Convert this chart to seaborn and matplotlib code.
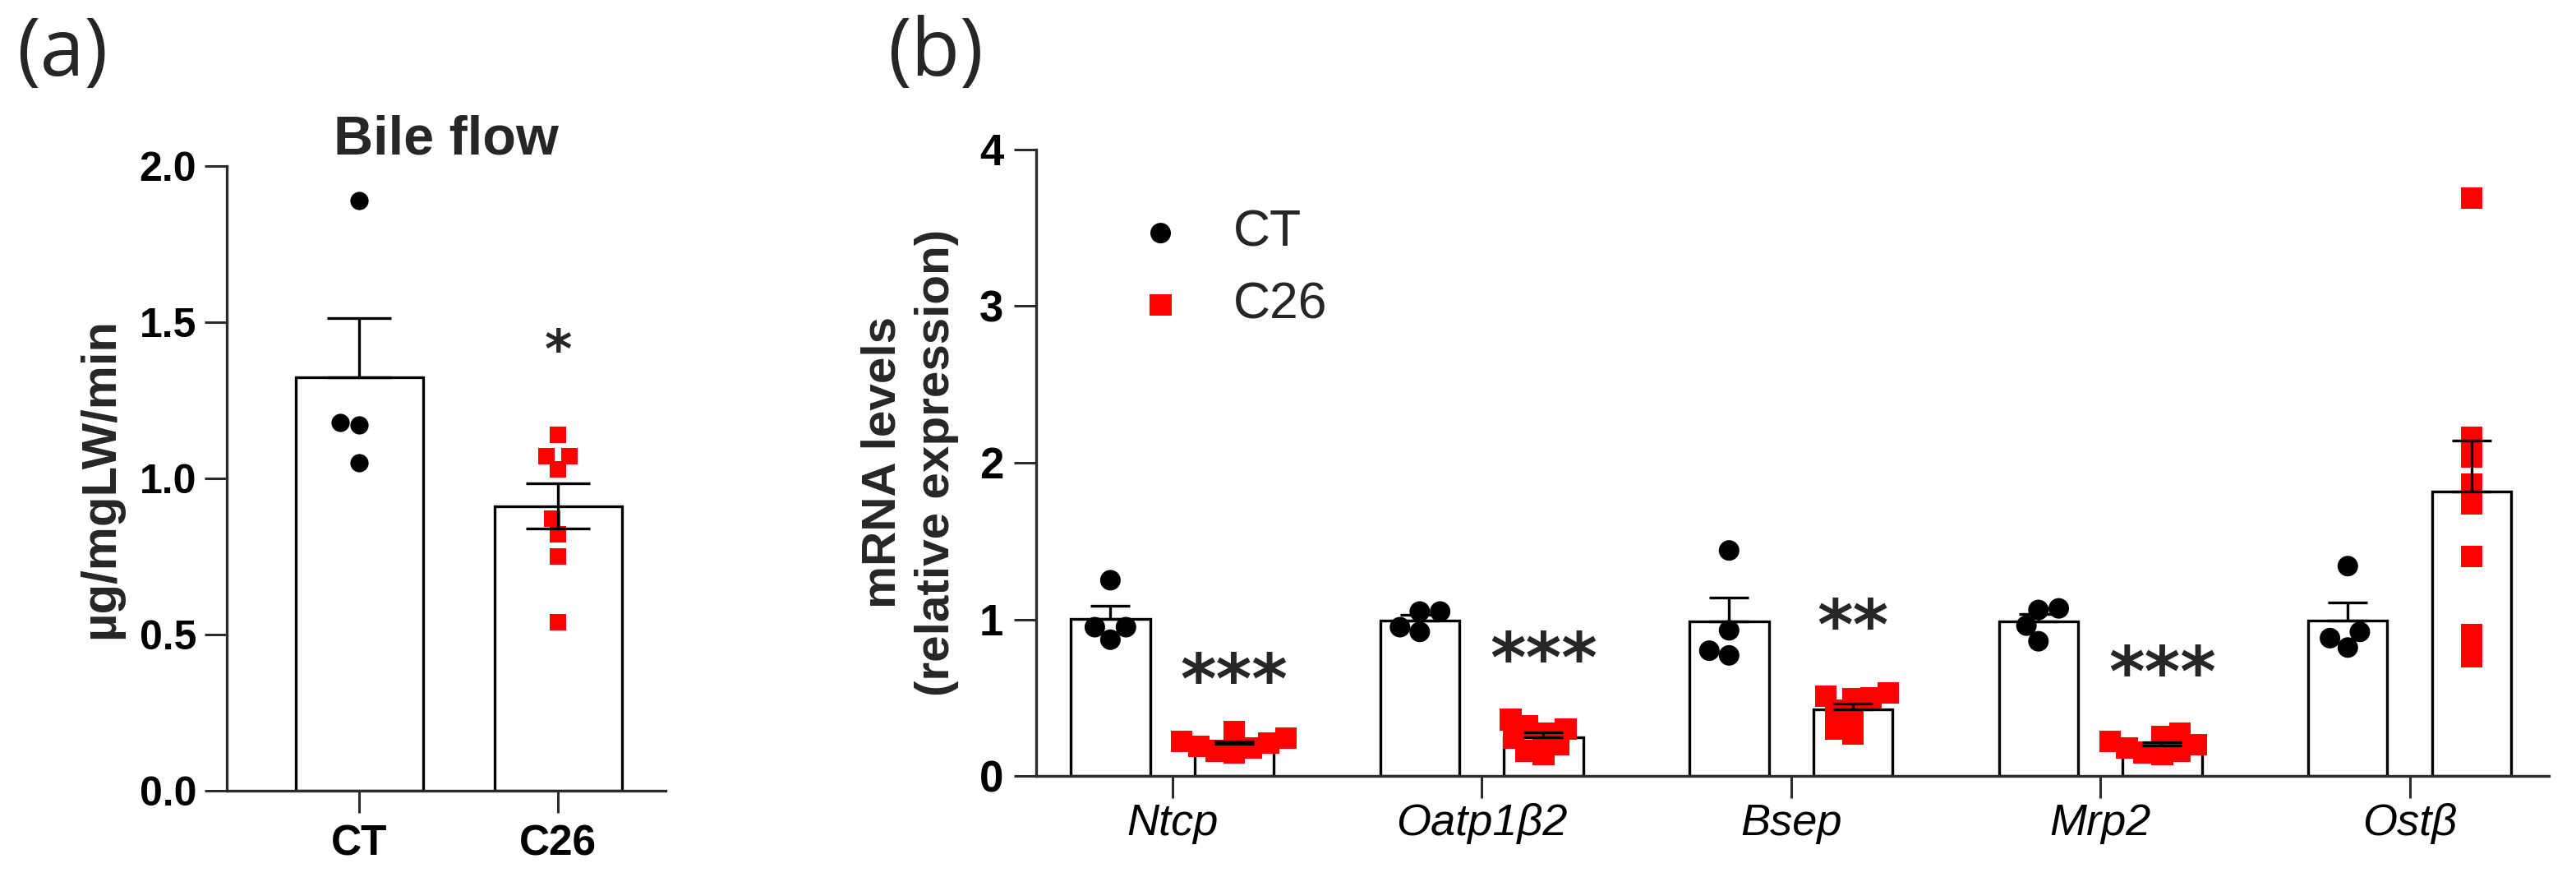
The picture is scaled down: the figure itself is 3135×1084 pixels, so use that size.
import numpy as np
import pandas as pd
import matplotlib
matplotlib.use("Agg")
import matplotlib.pyplot as plt
from matplotlib.ticker import FormatStrFormatter
import seaborn as sns

# ---------------- data ----------------
groups = ["CT", "C26"]

# (a) bile flow, µg/mgLW/min
bile_ct = [1.89, 1.18, 1.17, 1.05]
bile_c26 = [1.14, 1.07, 1.07, 1.03, 0.87, 0.82, 0.75, 0.54]

# (b) mRNA levels (relative expression)
genes = ["Ntcp", "Oatp1β2", "Bsep", "Mrp2", "Ostβ"]
ntcp_ct = [1.25, 0.95, 0.95, 0.87]
ntcp_c26 = [0.28, 0.24, 0.22, 0.21, 0.19, 0.18, 0.16, 0.15]
oatp_ct = [1.05, 1.05, 0.95, 0.92]
oatp_c26 = [0.36, 0.32, 0.30, 0.27, 0.24, 0.20, 0.16, 0.14]
bsep_ct = [1.44, 0.93, 0.80, 0.77]
bsep_c26 = [0.53, 0.51, 0.50, 0.49, 0.42, 0.38, 0.30, 0.27]
mrp2_ct = [1.07, 1.06, 0.96, 0.86]
mrp2_c26 = [0.27, 0.25, 0.22, 0.20, 0.18, 0.16, 0.15, 0.14]
ost_ct = [1.34, 0.92, 0.88, 0.82]
ost_c26 = [3.69, 2.16, 2.04, 1.86, 1.74, 1.40, 0.90, 0.76]

bile_stars = ["", "*"]
gene_stars = ["***", "***", "**", "***", ""]

# ---------------- tables ----------------
dfa = pd.DataFrame({
    "group": ["CT"] * len(bile_ct) + ["C26"] * len(bile_c26),
    "flow": bile_ct + bile_c26,
})

per_gene = {
    "Ntcp": (ntcp_ct, ntcp_c26),
    "Oatp1β2": (oatp_ct, oatp_c26),
    "Bsep": (bsep_ct, bsep_c26),
    "Mrp2": (mrp2_ct, mrp2_c26),
    "Ostβ": (ost_ct, ost_c26),
}
rows = []
for g in genes:
    for grp, vals in zip(groups, per_gene[g]):
        for v in vals:
            rows.append((g, grp, v))
dfb = pd.DataFrame(rows, columns=["gene", "group", "value"])

# ---------------- style ----------------
sns.set_theme(style="ticks")
plt.rcParams["font.family"] = ["Liberation Sans", "DejaVu Sans"]
axis_col = "#2b2b2b"
plt.rcParams["axes.edgecolor"] = axis_col
plt.rcParams["xtick.color"] = axis_col
plt.rcParams["ytick.color"] = axis_col
plt.rcParams["xtick.labelcolor"] = "black"
plt.rcParams["ytick.labelcolor"] = "black"

W, H = 3135, 1084
fig = plt.figure(figsize=(W / 100, H / 100), dpi=100)
axA = fig.add_axes([276 / W, 1 - 962 / H, 534 / W, 760 / H])
axB = fig.add_axes([1261 / W, 1 - 944 / H, 1841 / W, 762 / H])

lw = 2.4
palette_pts = {"CT": "black", "C26": "#ff0000"}

# ================= panel (a) =================
axA.set_xlim(-0.665, 1.54)
axA.set_ylim(0, 2.0)
sns.barplot(data=dfa, x="group", y="flow", order=groups, color="white",
            saturation=1, edgecolor="black", linewidth=lw, width=0.64,
            errorbar=None, ax=axA, zorder=1)
sns.swarmplot(data=dfa[dfa.group == "CT"], x="group", y="flow", order=groups,
              color=palette_pts["CT"], marker="o", size=16, linewidth=0,
              ax=axA, zorder=3, warn_thresh=1)
sns.swarmplot(data=dfa[dfa.group == "C26"], x="group", y="flow", order=groups,
              color=palette_pts["C26"], marker="s", size=14.5, linewidth=0,
              ax=axA, zorder=3, warn_thresh=1)

statsA = dfa.groupby("group")["flow"].agg(["mean", "sem"]).reindex(groups)
xa = np.arange(len(groups))
show_lower_a = np.array([0, 1])
axA.errorbar(xa, statsA["mean"].values,
             yerr=[statsA["sem"].values * show_lower_a, statsA["sem"].values],
             fmt="none", ecolor="black", elinewidth=lw, capsize=28,
             capthick=lw, zorder=4)
for i, s in enumerate(bile_stars):
    if s:
        axA.annotate(s, xy=(i, 1.45), xytext=(0, -0.56 * 46),
                     textcoords="offset points", ha="center", va="baseline",
                     fontsize=46, fontweight="bold", family="DejaVu Sans")

axA.set_xlim(-0.665, 1.54)
axA.set_ylim(0, 2.0)
axA.set_yticks([0, 0.5, 1.0, 1.5, 2.0])
axA.yaxis.set_major_formatter(FormatStrFormatter("%.1f"))
axA.set_xlabel("")
axA.set_ylabel("µg/mgLW/min", fontsize=43, fontweight="bold", labelpad=14)
axA.set_title("Bile flow", fontsize=48, fontweight="bold", pad=9)
axA.tick_params(axis="both", length=19.5, width=2.2)
axA.tick_params(axis="y", pad=7, labelsize=36)
axA.tick_params(axis="x", pad=10, labelsize=37)
for lab in axA.get_xticklabels() + axA.get_yticklabels():
    lab.set_fontweight("bold")
for sp in ["left", "bottom"]:
    axA.spines[sp].set_linewidth(2.4)
sns.despine(ax=axA)

# ================= panel (b) =================
axB.set_xlim(-0.44, 4.45)
axB.set_ylim(0, 4)
sns.barplot(data=dfb, x="gene", y="value", hue="group", order=genes,
            hue_order=groups, palette=["white", "white"], saturation=1,
            edgecolor="black", linewidth=lw, width=0.8, gap=0.36,
            errorbar=None, legend=False, ax=axB, zorder=1)

# swarm layout size (packing) and drawn marker size, per group
swarm_size = {"CT": 17, "C26": 15}
draw_size = {"CT": 18, "C26": 19}
markers = {"CT": "o", "C26": "s"}
new_colls = {}
for grp in groups:
    n0 = len(axB.collections)
    sns.swarmplot(data=dfb[dfb.group == grp], x="gene", y="value", hue="group",
                  order=genes, hue_order=groups, palette=palette_pts,
                  dodge=True, marker=markers[grp], size=swarm_size[grp],
                  linewidth=0, legend=False, ax=axB, zorder=3, warn_thresh=1)
    new_colls[grp] = [c for c in axB.collections[n0:]
                      if len(c.get_offsets()) > 0]

statsB = dfb.groupby(["gene", "group"])["value"].agg(["mean", "sem"])
for j, grp in enumerate(groups):
    off = (j - 0.5) * 0.4
    m = [statsB.loc[(g, grp), "mean"] for g in genes]
    e = [statsB.loc[(g, grp), "sem"] for g in genes]
    axB.errorbar(np.arange(len(genes)) + off, m,
                 yerr=[np.zeros(len(genes)), e], fmt="none", ecolor="black",
                 elinewidth=lw, capsize=17, capthick=lw, zorder=4)

star_y = [0.71, 0.85, 1.06, 0.76, 0.0]
for i, (s, y) in enumerate(zip(gene_stars, star_y)):
    if s:
        axB.annotate(s, xy=(i + 0.2, y), xytext=(0, -0.56 * 60),
                     textcoords="offset points", ha="center", va="baseline",
                     fontsize=60, fontweight="bold", family="DejaVu Sans")

axB.set_xlim(-0.44, 4.45)
axB.set_ylim(0, 4)
axB.set_yticks([0, 1, 2, 3, 4])
axB.set_xlabel("")
axB.set_ylabel("mRNA levels\n(relative expression)", fontsize=42,
               fontweight="bold", labelpad=18, linespacing=1.27)
axB.tick_params(axis="both", length=19.5, width=2.2)
axB.tick_params(axis="y", labelsize=38, pad=9)
axB.tick_params(axis="x", labelsize=39, pad=4)
for lab in axB.get_yticklabels():
    lab.set_fontweight("bold")
for lab in axB.get_xticklabels():
    lab.set_fontstyle("italic")
for sp in ["left", "bottom"]:
    axB.spines[sp].set_linewidth(2.4)
sns.despine(ax=axB)

fig.text(20 / W, 1 - 18 / H, "(a)", fontsize=70, family="Open Sans",
         va="top", ha="left")
fig.text(1080 / W, 1 - 18 / H, "(b)", fontsize=70, family="Open Sans",
         va="top", ha="left")

# let seaborn pack the swarms, then enlarge the drawn markers
fig.canvas.draw()
for grp in groups:
    for c in new_colls[grp]:
        if "draw" in c.__dict__:
            del c.draw
        c.set_sizes([draw_size[grp] ** 2])

handles = [new_colls[g][0] for g in groups]
axB.legend(handles=handles, labels=groups, frameon=False,
           loc="upper left", bbox_to_anchor=(1350 / W, 1 - 254 / H),
           bbox_transform=fig.transFigure, fontsize=45,
           handlelength=2.0, handletextpad=0.42, labelspacing=0.45,
           borderpad=0, borderaxespad=0, scatterpoints=1)

fig.savefig("out.png", dpi=100)
